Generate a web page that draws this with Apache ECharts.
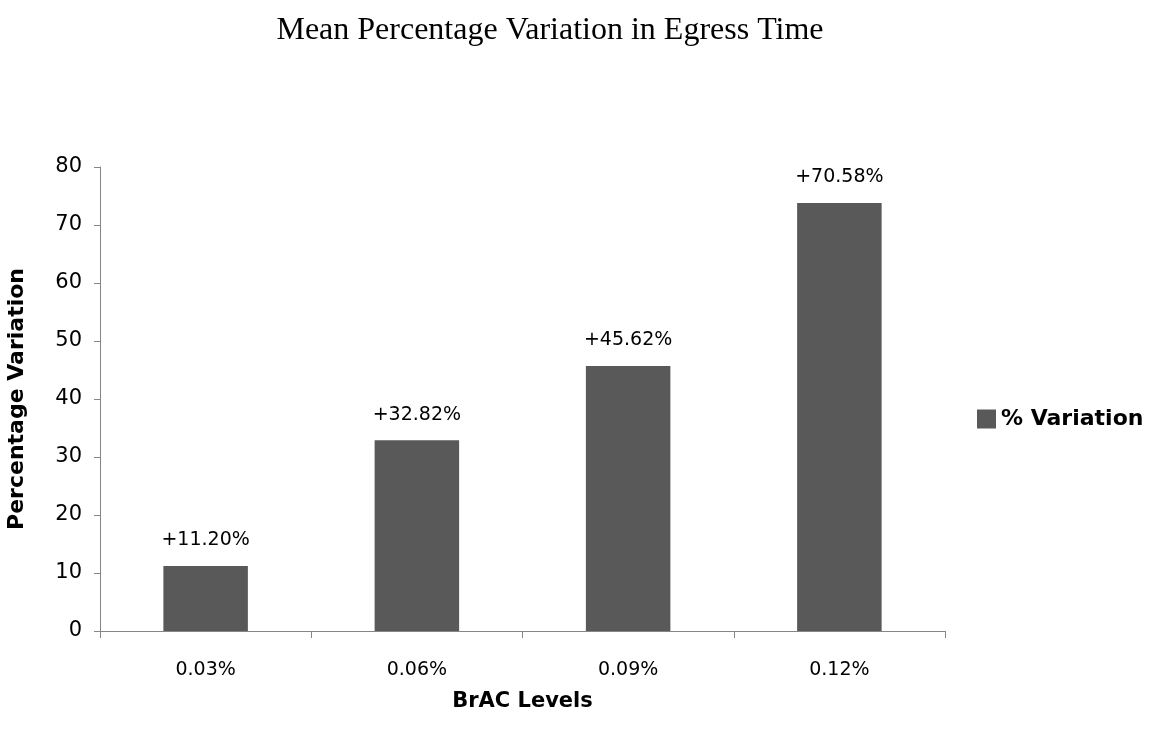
<!DOCTYPE html>
<html>
<head>
<meta charset="utf-8">
<script src="https://cdn.jsdelivr.net/npm/echarts@6/dist/echarts.min.js"></script>
<style>
html,body{margin:0;padding:0;background:#fff;}
#chart{width:1151px;height:740px;}
</style>
</head>
<body>
<div id="chart"></div>
<script>
const categories = ['0.03%', '0.06%', '0.09%', '0.12%'];
const values = [11.2, 32.9, 45.7, 73.8];
const labelTexts = ['+11.20%', '+32.82%', '+45.62%', '+70.58%'];
const yTicks = { min: 0, max: 80, interval: 10 };
const seriesName = '% Variation';

const font = '"DejaVu Sans", sans-serif';
const chart = echarts.init(document.getElementById('chart'));
chart.setOption({
  backgroundColor: '#ffffff',
  animation: false,
  title: {
    text: 'Mean Percentage Variation in Egress Time',
    left: 545, top: 10, textAlign: 'center',
    textStyle: { fontFamily: '"Liberation Serif", "Times New Roman", serif', fontSize: 32, fontWeight: 'normal', color: '#000' }
  },
  legend: {
    data: [seriesName],
    left: 972, top: 403,
    itemWidth: 19, itemHeight: 19, itemGap: 6,
    icon: 'rect',
    textStyle: { fontFamily: font, fontSize: 22, fontWeight: 'bold', color: '#000' }
  },
  grid: { left: 100, right: 206, top: 167, bottom: 109, containLabel: false, outerBoundsMode: 'none' },
  xAxis: {
    type: 'category',
    data: categories,
    name: 'BrAC Levels',
    nameLocation: 'middle',
    nameGap: 60,
    nameTextStyle: { fontFamily: font, fontSize: 21, fontWeight: 'bold', color: '#000' },
    axisLine: { lineStyle: { color: '#868686', width: 1 } },
    axisTick: { show: true, length: 7, lineStyle: { color: '#868686' } },
    axisLabel: { fontFamily: font, fontSize: 19, color: '#000', margin: 30 }
  },
  yAxis: {
    type: 'value',
    min: yTicks.min, max: yTicks.max, interval: yTicks.interval,
    name: 'Percentage Variation',
    nameLocation: 'middle',
    nameGap: 72,
    nameTextStyle: { fontFamily: font, fontSize: 22, fontWeight: 'bold', color: '#000' },
    axisLine: { show: true, lineStyle: { color: '#868686', width: 1 } },
    axisTick: { show: true, length: 6, lineStyle: { color: '#868686' } },
    splitLine: { show: false },
    axisLabel: { fontFamily: font, fontSize: 21, color: '#000', margin: 18 }
  },
  series: [{
    name: seriesName,
    type: 'bar',
    data: values,
    barWidth: '40%',
    itemStyle: { color: '#595959' },
    label: {
      show: true, position: 'top', distance: 16,
      fontFamily: font, fontSize: 19, color: '#000',
      formatter: p => labelTexts[p.dataIndex]
    }
  }]
});
</script>
</body>
</html>
